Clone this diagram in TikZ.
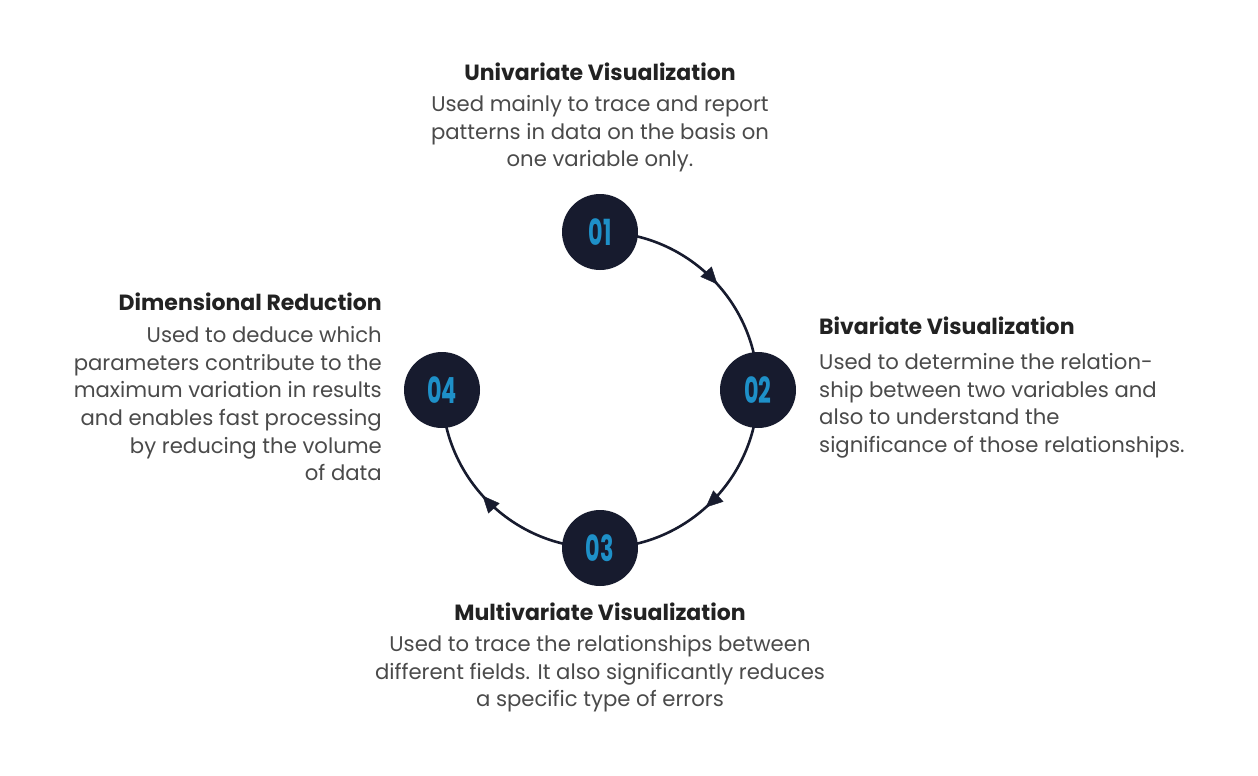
\documentclass[tikz,border=0pt]{standalone}
\usepackage{fontspec}
\setmainfont{Poppins}
\usetikzlibrary{arrows.meta}
\definecolor{navy}{HTML}{171B2E}
\definecolor{numblue}{HTML}{1E90C8}
\definecolor{txt}{HTML}{4A4A4A}
\definecolor{ttl}{HTML}{222222}
\begin{document}
\begin{tikzpicture}[x=1pt,y=-1pt,
  num/.style={circle,fill=navy,minimum size=76pt,inner sep=0pt,text=numblue,font=\fontsize{36}{36}\selectfont\bfseries},
  ttlstyle/.style={text=ttl,font=\fontsize{22}{26}\selectfont\bfseries,inner sep=0pt},
  body/.style={text=txt,font=\fontsize{21.2}{27.7}\selectfont,inner sep=0pt},
  arc/.style={navy,line width=2.6pt},
  tip/.style={navy,-{Triangle[length=17pt,width=15pt]}}]
\useasboundingbox[fill=white] (0,0) rectangle (1258,776);
\draw[arc] (600,390) ++(-90:158) arc (-90:180:158);
\foreach \a in {-45,45,135}{
  \draw[tip] (600,390) ++(\a-4:158) arc (\a-4:\a+3:158);
}
\node[num] (n1) at (600,232) {\scalebox{0.62}[1]{01}};
\node[num] (n2) at (758,390) {\scalebox{0.62}[1]{02}};
\node[num] (n3) at (600,548) {\scalebox{0.62}[1]{03}};
\node[num] (n4) at (442,390) {\scalebox{0.62}[1]{04}};
\node[ttlstyle] (t1) at (600,72) {Univariate Visualization};
\node[body,align=center,anchor=north] (b1) at (600,95) {Used mainly to trace and report\\patterns in data on the basis on\\one variable only.};
\node[ttlstyle,anchor=west] (t2) at (819,326) {Bivariate Visualization};
\node[body,align=left,anchor=north west] (b2) at (819,353) {Used to determine the relation-\\ship between two variables and\\also to understand the\\significance of those relationships.};
\node[ttlstyle,anchor=east] (t4) at (382,302) {Dimensional Reduction};
\node[body,align=right,anchor=north east] (b4) at (382,326) {Used to deduce which\\parameters contribute to the\\maximum variation in results\\and enables fast processing\\by reducing the volume\\of data};
\node[ttlstyle] (t3) at (600,612) {Multivariate Visualization};
\node[body,align=center,anchor=north] (b3) at (600,635) {Used to trace the relationships between\\different fields. It also significantly reduces\\a specific type of errors};
\end{tikzpicture}
\end{document}
